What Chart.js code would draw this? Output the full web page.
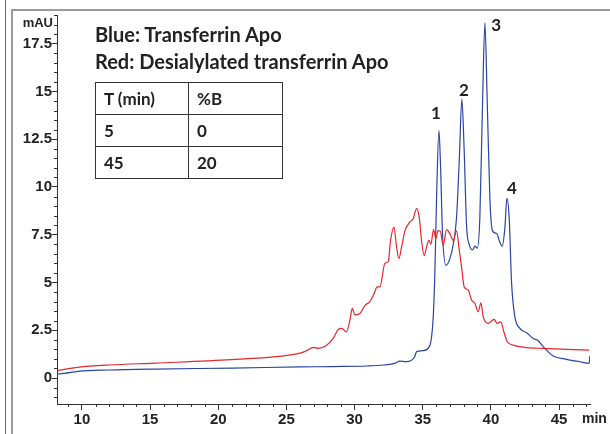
<!DOCTYPE html>
<html><head><meta charset="utf-8">
<script src="https://cdn.jsdelivr.net/npm/chart.js@4"></script>
<style>
html,body{margin:0;padding:0;background:#fff;}
#wrap{position:relative;width:610px;height:434px;overflow:hidden;background:#fff;}
canvas{position:absolute;left:0;top:0;}
.ln{position:absolute;}
.legend{position:absolute;left:95px;font-family:Lato,"Open Sans",sans-serif;font-weight:bold;font-size:20px;color:#222;white-space:nowrap;line-height:24px;}
table{position:absolute;left:95px;top:82px;border-collapse:collapse;font-family:Lato,"Open Sans",sans-serif;font-weight:bold;font-size:17px;color:#222;}
td{border:1.3px solid #333;height:32px;padding:0 0 0 8px;box-sizing:border-box;text-align:left;}
.ax{position:absolute;font-family:"Liberation Sans",Arial,sans-serif;font-weight:bold;color:#222;white-space:nowrap;}
</style></head><body>
<div id="wrap">
<canvas id="c" width="610" height="434"></canvas>
<div class="ln" style="left:5px;top:0;width:1px;height:434px;background:#666"></div>
<div class="ln" style="left:11px;top:9px;width:2px;height:425px;background:#9a9a9a"></div>
<div class="ln" style="left:11px;top:9px;width:599px;height:2px;background:#9a9a9a"></div>
<div class="legend" style="top:22px">Blue: Transferrin Apo</div>
<div class="legend" style="top:49px">Red: Desialylated transferrin Apo</div>
<table>
<tr><td style="width:93px">T (min)</td><td style="width:94px">%B</td></tr>
<tr><td>5</td><td>0</td></tr>
<tr><td>45</td><td>20</td></tr>
</table>
<div class="ax" style="right:557px;top:15px;font-size:13px">mAU</div>
<div class="ax" style="left:582px;top:410px;font-size:14px">min</div>
</div>
<script>
// ---- data ----
const xTickValues = [10, 15, 20, 25, 30, 35, 40, 45];
const yTickValues = [0, 2.5, 5, 7.5, 10, 12.5, 15, 17.5];

const blueTime = [8.2, 8.7, 9.7, 12, 15.4, 21, 26, 28.4, 30.9, 32.1, 33.0, 33.3, 33.8, 34.1, 34.4, 34.55, 35.0, 35.5, 35.65, 35.77, 35.89, 36.01, 36.19, 36.31, 36.45, 36.7, 36.99, 37.24, 37.48, 37.68, 37.87, 38.04, 38.22, 38.41, 38.66, 38.83, 39.0, 39.19, 39.39, 39.56, 39.73, 39.93, 40.12, 40.42, 40.66, 40.83, 41.03, 41.17, 41.34, 41.52, 41.76, 42.13, 42.62, 43.11, 43.47, 43.84, 44.57, 45.55, 46.53, 47.21, 47.26];
const blueValues = [0.21, 0.24, 0.35, 0.42, 0.47, 0.52, 0.58, 0.6, 0.63, 0.68, 0.78, 0.88, 0.86, 0.9, 1.1, 1.38, 1.43, 1.67, 2.16, 3.2, 5.5, 9.3, 12.96, 11.0, 7.56, 5.9, 6.25, 7.0, 8.4, 11.4, 14.6, 11.9, 7.9, 7.0, 6.7, 6.9, 6.8, 8.4, 14.5, 18.6, 14.5, 9.3, 7.7, 7.56, 7.1, 6.9, 7.9, 9.4, 8.4, 4.95, 3.2, 2.6, 2.37, 2.07, 1.95, 1.64, 1.15, 0.98, 0.85, 0.77, 1.15];

const redTime = [8.2, 9.7, 12, 15.4, 21, 24.4, 26, 26.48, 26.97, 27.33, 27.95, 28.43, 28.8, 29.05, 29.41, 29.66, 29.83, 30.02, 30.39, 30.76, 31.12, 31.42, 31.66, 31.86, 32.22, 32.47, 32.64, 32.89, 33.08, 33.25, 33.45, 33.69, 34.06, 34.3, 34.55, 34.74, 34.91, 35.11, 35.28, 35.45, 35.6, 35.79, 35.97, 36.11, 36.28, 36.5, 36.75, 36.99, 37.24, 37.48, 37.68, 37.85, 38.04, 38.34, 38.58, 38.83, 39.07, 39.27, 39.44, 39.8, 40.24, 40.46, 40.73, 40.95, 41.2, 41.64, 42.62, 43.84, 45.55, 47.21];
const redValues = [0.4, 0.56, 0.68, 0.78, 0.96, 1.13, 1.3, 1.43, 1.6, 1.55, 1.72, 2.07, 2.54, 2.6, 2.42, 3.03, 3.64, 3.3, 3.38, 3.8, 4.0, 4.4, 4.77, 4.77, 6.0, 6.1, 7.2, 7.9, 6.86, 6.25, 6.86, 7.7, 8.17, 8.34, 8.87, 8.43, 7.2, 6.4, 6.86, 7.2, 7.0, 7.77, 7.3, 7.7, 7.7, 6.95, 7.77, 7.56, 7.2, 7.7, 6.7, 5.8, 4.77, 4.6, 4.08, 3.9, 3.47, 3.94, 3.2, 2.86, 3.07, 2.86, 2.94, 2.42, 1.9, 1.72, 1.59, 1.55, 1.5, 1.46];

const peakLabels = ['1', '2', '3', '4'];
const peakLabelTimes = [35.97, 38.03, 40.38, 41.55];
const peakLabelValues = [13.85, 15.05, 18.45, 9.93];

// ---- chart ----
const toXY = (xs, ys) => xs.map((x, i) => ({x: x, y: ys[i]}));
const axisColor = '#333';
const tickFont = {family: '"Liberation Sans", Arial, sans-serif', size: 15, weight: 'bold'};

const extras = {
  id: 'extras',
  afterDraw(chart) {
    const ctx = chart.ctx, xs = chart.scales.x, ys = chart.scales.y;
    const a = chart.chartArea;
    ctx.save();
    ctx.strokeStyle = axisColor; ctx.lineWidth = 1;
    ctx.beginPath();
    for (let t = Math.ceil(xs.min); t <= xs.max; t += 1) {
      if (t % 5 === 0) continue;
      const px = Math.round(xs.getPixelForValue(t)) + 0.5;
      ctx.moveTo(px, a.bottom); ctx.lineTo(px, a.bottom + 3);
    }
    for (let v = Math.ceil(ys.min * 2) / 2; v <= ys.max; v += 0.5) {
      if (Math.abs(v / 2.5 - Math.round(v / 2.5)) < 1e-6) continue;
      const py = Math.round(ys.getPixelForValue(v)) + 0.5;
      ctx.moveTo(a.left - 3, py); ctx.lineTo(a.left, py);
    }
    ctx.stroke();
    ctx.fillStyle = '#222';
    ctx.font = 'bold 17px Lato, "Open Sans", sans-serif';
    ctx.textAlign = 'center'; ctx.textBaseline = 'middle';
    peakLabels.forEach((s, i) => {
      ctx.fillText(s, xs.getPixelForValue(peakLabelTimes[i]), ys.getPixelForValue(peakLabelValues[i]));
    });
    ctx.restore();
  }
};

new Chart(document.getElementById('c'), {
  type: 'line',
  data: {
    datasets: [
      {label: 'Desialylated transferrin Apo', data: toXY(redTime, redValues), borderColor: '#e8262c', borderWidth: 1.2, pointRadius: 0, fill: false, cubicInterpolationMode: 'monotone'},
      {label: 'Transferrin Apo', data: toXY(blueTime, blueValues), borderColor: '#2a44a3', borderWidth: 1.2, pointRadius: 0, fill: false, cubicInterpolationMode: 'monotone'}
    ]
  },
  options: {
    responsive: false, animation: false, devicePixelRatio: 1,
    layout: {padding: {left: 0, top: 15, right: 20, bottom: 0}},
    plugins: {legend: {display: false}, tooltip: {enabled: false}},
    scales: {
      x: {
        type: 'linear', min: 8.17, max: 47.27,
        afterFit(s) { s.height = 30; },
        afterBuildTicks(s) { s.ticks = xTickValues.map(v => ({value: v})); },
        grid: {display: true, drawOnChartArea: false, drawTicks: true, tickLength: 6, color: axisColor},
        border: {display: true, color: axisColor, width: 1},
        ticks: {font: tickFont, color: '#222', padding: 1, maxRotation: 0, autoSkip: false}
      },
      y: {
        type: 'linear', min: -1.36, max: 19.0,
        afterFit(s) { s.width = 57; },
        afterBuildTicks(s) { s.ticks = yTickValues.map(v => ({value: v})); },
        grid: {display: true, drawOnChartArea: false, drawTicks: true, tickLength: 5, color: axisColor},
        border: {display: true, color: axisColor, width: 1},
        ticks: {font: tickFont, color: '#222', padding: 0, autoSkip: false, callback: v => String(v)}
      }
    }
  },
  plugins: [extras]
});
</script>
</body></html>
